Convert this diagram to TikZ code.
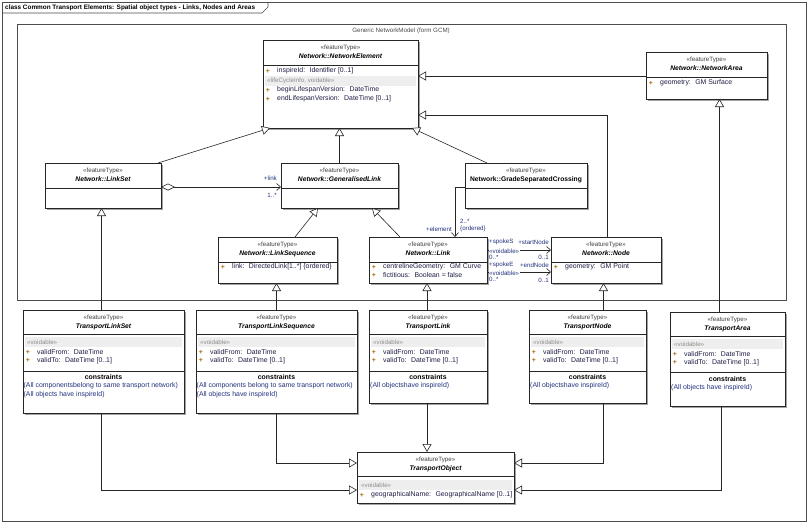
\documentclass[tikz,border=0pt]{standalone}
\usepackage{fontspec}
\setmainfont{Liberation Sans}
\usetikzlibrary{arrows.meta,shadows,calc}
\definecolor{txt}{RGB}{30,30,70}
\definecolor{lbl}{RGB}{35,50,125}
\definecolor{plusc}{RGB}{170,110,20}
\definecolor{barc}{RGB}{238,238,238}
\definecolor{greytxt}{RGB}{140,140,140}
\tikzset{
 cls/.style={draw=black!85, fill=white, line width=0.8pt, inner sep=0pt, outer sep=0pt, anchor=north west,
   drop shadow={shadow xshift=1.5pt, shadow yshift=-1.5pt, fill=black!45, opacity=0.8}},
 stereo/.style={font=\fontsize{6.2}{7}\selectfont, text=black!75, inner sep=0pt},
 cname/.style={font=\fontsize{6.7}{8}\selectfont\bfseries\itshape, inner sep=0pt},
 cnameup/.style={font=\fontsize{6.7}{8}\selectfont\bfseries, inner sep=0pt},
 attr/.style={font=\fontsize{6.9}{8}\selectfont, text=txt, anchor=west, inner sep=0pt},
 plus/.style={font=\fontsize{6.9}{8}\selectfont\bfseries, text=plusc, inner sep=0pt},
 bartxt/.style={font=\fontsize{6.2}{7}\selectfont, text=greytxt, anchor=west, inner sep=0pt},
 cons/.style={font=\fontsize{6.9}{8}\selectfont, text=lbl, anchor=west, inner sep=0pt},
 conshd/.style={font=\fontsize{6.9}{8}\selectfont\bfseries, inner sep=0pt},
 sepline/.style={draw=black!85, line width=0.8pt},
 gen/.style={draw=black!85, line width=0.6pt, -{Triangle[length=8pt, width=9pt, fill=white]}},
 assoc/.style={draw=black!85, line width=0.6pt, -{Straight Barb[length=4pt, width=7pt]}},
 lab/.style={font=\fontsize{6.2}{7}\selectfont, text=lbl, inner sep=0pt},
}
\newcommand\hdr[3]{\node[stereo] at (#1,#2) {«featureType»}; \node[cname] at (#1,#2+8.5) {#3};}
\newcommand\sepl[3]{\draw[sepline] (#1,#3) -- (#2,#3);}
\newcommand\attrl[3]{\node[plus] at (#1+5,#2) {+}; \node[attr] at (#1+14,#2) {#3};}
\newcommand\gbar[4]{\fill[barc] (#1+2,#3-5) rectangle (#2-2,#3+5); \node[bartxt] at (#1+4,#3) {#4};}
\begin{document}
\begin{tikzpicture}[x=1pt,y=-1pt]
\fill[white] (0,0) rectangle (810,525);
\useasboundingbox (0,0) rectangle (810,525);
% outer frame
\draw[black!70, line width=0.6pt] (2,2) rectangle (806,521);
\draw[black!70, line width=0.6pt] (2,13) -- (262,13) -- (268,7) -- (268,2);
\node[font=\fontsize{6.4}{8}\selectfont\bfseries, anchor=west, inner sep=0pt] (title) at (5,7.5) {class Common Transport Elements: Spatial object types - Links, Nodes and Areas};
% package
\node[draw=black!70, line width=0.6pt, anchor=north west, minimum width=769, minimum height=276, inner sep=0pt] (pkg) at (17,24) {};
\node[font=\fontsize{6.2}{7}\selectfont, text=black!70] (pkglbl) at (401,31) {Generic NetworkModel (form GCM)};

% ---------- NetworkElement
\node[cls, minimum width=155, minimum height=88] (ne) at (263,40) {};
\hdr{340.5}{48}{Network::NetworkElement}
\sepl{263}{418}{65}
\attrl{263}{71}{inspireId: \ Identifier [0..1]}
\gbar{263}{418}{81}{«lifeCycleInfo, voidable»}
\attrl{263}{90}{beginLifespanVersion: \ DateTime}
\attrl{263}{99}{endLifespanVersion: \ DateTime [0..1]}

% ---------- NetworkArea
\node[cls, minimum width=121, minimum height=47] (na) at (646,52) {};
\hdr{706.5}{60}{Network::NetworkArea}
\sepl{646}{767}{77}
\attrl{646}{83}{geometry: \ GM Surface}

% ---------- LinkSet
\node[cls, minimum width=116, minimum height=45] (ls) at (45,163) {};
\hdr{103}{171}{Network::LinkSet}
\sepl{45}{161}{188}

% ---------- GeneralisedLink
\node[cls, minimum width=117, minimum height=45] (gl) at (281,163) {};
\hdr{339.5}{171}{Network::GeneralisedLink}
\sepl{281}{398}{188}

% ---------- GradeSeparatedCrossing
\node[cls, minimum width=122, minimum height=45] (gsc) at (465,163) {};
\node[stereo] at (526,171) {«featureType»};
\node[cnameup] at (526,179.5) {Network::GradeSeparatedCrossing};
\sepl{465}{587}{188}

% ---------- LinkSequence
\node[cls, minimum width=119, minimum height=46] (lsq) at (218,237) {};
\hdr{277.5}{245}{Network::LinkSequence}
\sepl{218}{337}{262}
\attrl{218}{267}{link: \ DirectedLink[1..*] \{ordered\}}

% ---------- Link
\node[cls, minimum width=118, minimum height=46] (lk) at (369,237) {};
\hdr{428}{245}{Network::Link}
\sepl{369}{487}{262}
\attrl{369}{267}{centrelineGeometry: \ GM Curve}
\attrl{369}{275.5}{fictitious: \ Boolean = false}

% ---------- Node
\node[cls, minimum width=110, minimum height=46] (nd) at (551,237) {};
\hdr{606}{245}{Network::Node}
\sepl{551}{661}{262}
\attrl{551}{267}{geometry: \ GM Point}

% ---------- TransportLinkSet
\node[cls, minimum width=161, minimum height=103] (tls) at (23,310) {};
\hdr{103.5}{318}{TransportLinkSet}
\sepl{23}{184}{334.5}
\gbar{23}{184}{342}{«voidable»}
\attrl{23}{352}{validFrom: \ DateTime}
\attrl{23}{360.5}{validTo: \ DateTime [0..1]}
\sepl{23}{184}{371}
\node[conshd] at (103.5,377.5) {constraints};
\node[cons] at (23.5,386) {(All componentsbelong to same transport network)};
\node[cons] at (23.5,395) {(All objects have inspireId)};

% ---------- TransportLinkSequence
\node[cls, minimum width=161, minimum height=103] (tlsq) at (196,310) {};
\hdr{276.5}{318}{TransportLinkSequence}
\sepl{196}{357}{334.5}
\gbar{196}{357}{342}{«voidable»}
\attrl{196}{352}{validFrom: \ DateTime}
\attrl{196}{360.5}{validTo: \ DateTime [0..1]}
\sepl{196}{357}{371}
\node[conshd] at (276.5,377.5) {constraints};
\node[cons] at (196.5,386) {(All components belong to same transport network)};
\node[cons] at (196.5,395) {(All objects have inspireId)};

% ---------- TransportLink
\node[cls, minimum width=118, minimum height=93] (tl) at (369,310) {};
\hdr{428}{318}{TransportLink}
\sepl{369}{487}{334.5}
\gbar{369}{487}{342}{«voidable»}
\attrl{369}{352}{validFrom: \ DateTime}
\attrl{369}{360.5}{validTo: \ DateTime [0..1]}
\sepl{369}{487}{371}
\node[conshd] at (428,377.5) {constraints};
\node[cons] at (370,386) {(All objectshave inspireId)};

% ---------- TransportNode
\node[cls, minimum width=117, minimum height=93] (tn) at (529,310) {};
\hdr{587.5}{318}{TransportNode}
\sepl{529}{646}{334.5}
\gbar{529}{646}{342}{«voidable»}
\attrl{529}{352}{validFrom: \ DateTime}
\attrl{529}{360.5}{validTo: \ DateTime [0..1]}
\sepl{529}{646}{371}
\node[conshd] at (587.5,377.5) {constraints};
\node[cons] at (530,386) {(All objectshave inspireId)};

% ---------- TransportArea
\node[cls, minimum width=115, minimum height=94] (ta) at (670,312) {};
\hdr{727.5}{320}{TransportArea}
\sepl{670}{785}{336.5}
\gbar{670}{785}{344}{«voidable»}
\attrl{670}{354}{validFrom: \ DateTime}
\attrl{670}{362.5}{validTo: \ DateTime [0..1]}
\sepl{670}{785}{372}
\node[conshd] at (727.5,379.5) {constraints};
\node[cons] at (671,388) {(All objects have inspireId)};

% ---------- TransportObject
\node[cls, minimum width=157, minimum height=51] (to) at (357,452) {};
\hdr{435.5}{460}{TransportObject}
\sepl{357}{514}{476.5}
\gbar{357}{514}{485}{«voidable»}
\attrl{357}{495}{geographicalName: \ GeographicalName [0..1]}

% ---------- generalisations (upper)
\draw[gen] ([xshift=-3pt]ls.north east) -- ([xshift=7pt]ne.south west);
\draw[gen] (gl.north) -- (gl.north |- ne.south);
\draw[gen] ([xshift=22pt]gsc.north west) -- ([xshift=-6pt]ne.south east);
\coordinate (nain) at ([yshift=-24pt]na.north west);
\draw[gen] (nain) -- (nain -| ne.east);
\coordinate (ndtop) at ([xshift=1pt]nd.north);
\draw[gen] (ndtop) |- ([yshift=13pt]ne.south east);
\draw[gen] ([xshift=17.5pt]lsq.north) -- ([xshift=-21.5pt]gl.south);
\draw[gen] ([xshift=-28pt]lk.north) -- ([xshift=32.5pt]gl.south);

% ---------- generalisations (transport -> network)
\draw[gen] ([xshift=-2pt]tls.north) -- ([xshift=-2pt]tls.north |- ls.south);
\draw[gen] (tlsq.north) -- (tlsq.north |- lsq.south);
\draw[gen] ([xshift=-1pt]tl.north) -- ([xshift=-1pt]tl.north |- lk.south);
\coordinate (tntop) at ([xshift=16pt]tn.north);
\draw[gen] (tntop) -- (tntop |- nd.south);
\coordinate (tatop) at ([xshift=-8pt]ta.north);
\draw[gen] (tatop) -- (tatop |- na.south);

% ---------- generalisations to TransportObject
\draw[gen] ([xshift=-2pt]tls.south) |- ([yshift=13pt]to.south west);
\draw[gen] (tlsq.south) |- ([yshift=-11pt]to.north west);
\draw[gen] ([xshift=-1pt]tl.south) -- ([xshift=-1pt]tl.south |- to.north);
\draw[gen] ([xshift=16pt]tn.south) |- ([yshift=-11pt]to.north east);
\draw[gen] ([xshift=-6pt]ta.south) |- ([yshift=13pt]to.south east);

% ---------- associations
\coordinate (lsr) at ([yshift=-24pt]ls.north east);
\draw[draw=black!85, line width=0.6pt, {Diamond[length=14pt, width=7pt, fill=white]}-{Straight Barb[length=4pt, width=7pt]}] (lsr) -- (lsr -| gl.west);
\node[lab, anchor=east] (l_link) at (277,178) {+link};
\node[lab, anchor=east] (l_linkm) at (277,195) {1..*};

\coordinate (gscl) at ([yshift=-24pt]gsc.north west);
\draw[assoc] (gscl) -| ([xshift=27pt]lk.north);
\node[lab, anchor=east] (l_el) at (452,229) {+element};
\node[lab, anchor=west] (l_elm) at (460,221) {2..*};
\node[lab, anchor=west] (l_ord) at (460,228.5) {\{ordered\}};

\coordinate (lks) at ([yshift=-13pt]lk.north east);
\draw[assoc] (lks) -- (lks -| nd.west);
\coordinate (lke) at ([yshift=-35pt]lk.north east);
\draw[assoc] (lke) -- (lke -| nd.west);

\node[lab, anchor=west] (s1) at (489,242) {+spokeS};
\node[lab, anchor=east] (s2) at (549,242) {+startNode};
\node[lab, anchor=west, fill=white, inner sep=0.5pt] (s3) at (488.5,251) {«voidable»};
\node[lab, anchor=west] (s4) at (489,257) {0..*};
\node[lab, anchor=east] (s5) at (549,257) {0..1};

\node[lab, anchor=west] (e1) at (489,265) {+spokeE};
\node[lab, anchor=east] (e2) at (549,265) {+endNode};
\node[lab, anchor=west, fill=white, inner sep=0.5pt] (e3) at (488.5,273) {«voidable»};
\node[lab, anchor=west] (e4) at (489,279.5) {0..*};
\node[lab, anchor=east] (e5) at (549,280) {0..1};
\end{tikzpicture}
\end{document}
